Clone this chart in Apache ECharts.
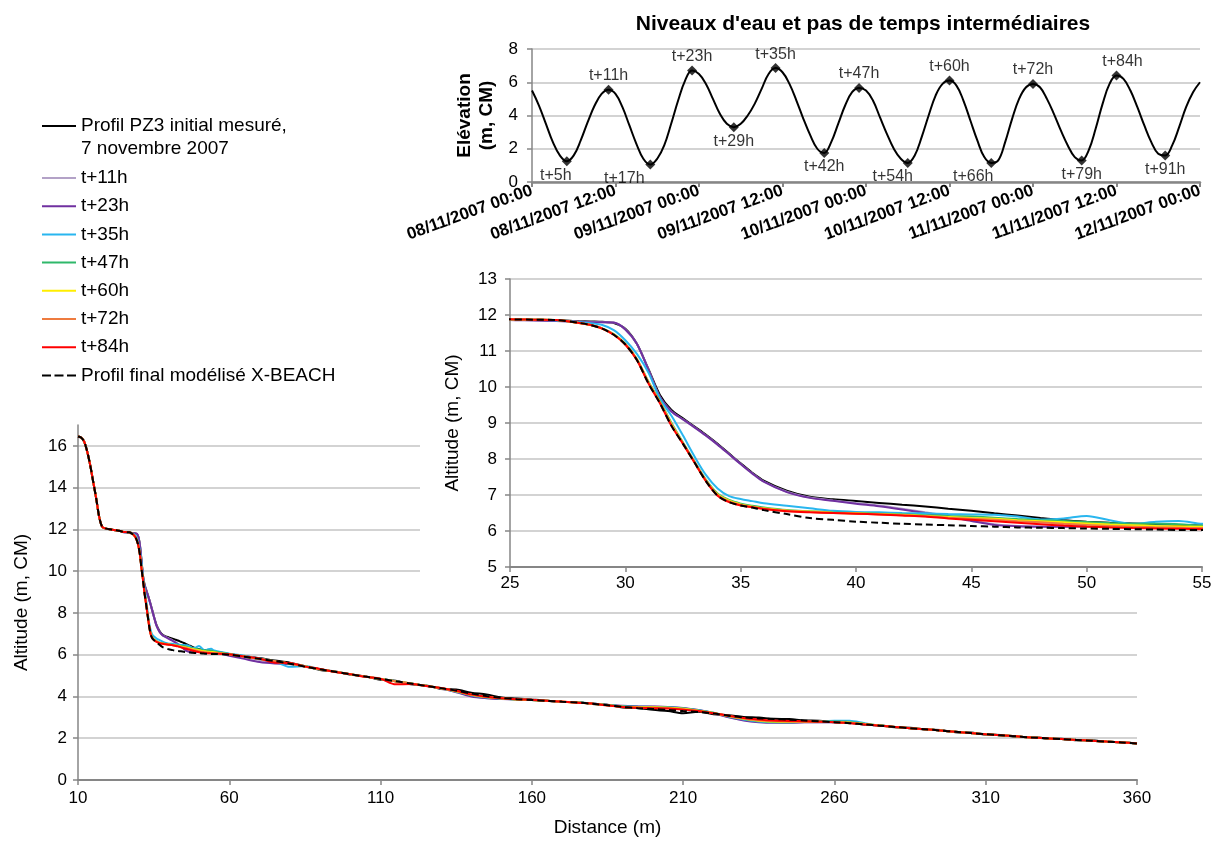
<!DOCTYPE html>
<html><head><meta charset="utf-8">
<script src="https://cdn.jsdelivr.net/npm/echarts@6/dist/echarts.min.js"></script>
<style>html,body{margin:0;padding:0;background:#fff}#c{width:1217px;height:842px}</style>
</head><body><div id="c"></div>
<script>
// ---------- DATA ----------
const tideLevels = [5.5,4.6,3.5,2.4,1.6,1.25,1.6,2.5,3.6,4.6,5.3,5.55,5.3,4.5,3.4,2.3,1.4,1.05,1.4,2.2,3.5,4.9,6.1,6.7,6.5,5.9,5.0,4.1,3.5,3.3,3.5,4.0,4.7,5.6,6.5,6.85,6.6,5.9,4.9,3.8,2.8,2.0,1.75,2.4,3.5,4.6,5.4,5.65,5.5,4.9,3.9,2.9,2.0,1.4,1.15,1.6,2.7,4.0,5.2,5.9,6.1,5.8,4.9,3.7,2.5,1.5,1.15,1.3,2.4,3.8,5.0,5.7,5.9,5.7,5.0,4.1,3.1,2.2,1.5,1.3,1.9,3.2,4.7,5.9,6.4,6.2,5.5,4.5,3.4,2.4,1.7,1.6,2.2,3.3,4.5,5.4,6.0];
const markerHours = [5,11,17,23,29,35,42,47,54,60,66,72,79,84,91];
const markerLevels = [1.25,5.55,1.05,6.7,3.3,6.85,1.75,5.65,1.15,6.1,1.15,5.9,1.3,6.4,1.6];
const markerLabels = ['t+5h','t+11h','t+17h','t+23h','t+29h','t+35h','t+42h','t+47h','t+54h','t+60h','t+66h','t+72h','t+79h','t+84h','t+91h'];
const dateTickLabels = ['08/11/2007 00:00','08/11/2007 12:00','09/11/2007 00:00','09/11/2007 12:00','10/11/2007 00:00','10/11/2007 12:00','11/11/2007 00:00','11/11/2007 12:00','12/11/2007 00:00'];

const distance = [10,11,12,13,14,15,16,17,18,19,20,22,24,25,26,27,28,28.5,29,29.5,30,30.5,31,31.5,32,32.5,33,33.5,34,34.5,35,35.5,36,37,38,39,40,41,42,43,44,45,46,47,48,49,50,51,52,53,54,55,60,65,70,75,80,85,90,95,100,105,110,115,120,125,130,135,140,145,150,155,160,165,170,175,180,185,190,195,200,205,210,215,220,225,230,235,240,245,250,255,260,265,270,275,280,285,290,295,300,305,310,315,320,325,330,335,340,345,350,355,360];

const profileInitial = [16.45,16.4,16.22,15.75,15.1,14.3,13.5,12.6,12.12,12.05,12.02,11.97,11.92,
 11.88,11.87,11.86,11.83,11.82,11.81,11.78,11.62,11.2,10.5,9.78,9.36,9.13,8.9,8.67,8.42,8.15,7.88,7.62,7.4,7.12,6.95,6.88,6.83,6.78,6.73,6.68,6.62,6.56,6.49,6.43,6.36,6.3,6.26,6.23,6.21,6.19,6.17,6.15,
 6.03,5.93,5.84,5.72,5.62,5.45,5.27,5.2,5.04,4.97,4.8,4.75,4.58,4.53,4.36,4.33,4.18,4.1,3.95,3.9,3.85,3.8,3.74,3.73,3.64,3.6,3.47,3.45,3.36,3.3,3.2,3.27,3.15,3.1,3.02,2.99,2.93,2.92,2.85,2.84,2.76,2.74,2.65,2.62,2.52,2.5,2.41,2.39,2.29,2.27,2.17,2.16,2.07,2.06,1.98,1.97,1.9,1.9,1.82,1.81,1.75];
const profileT11 = [16.45,16.4,16.22,15.75,15.1,14.3,13.5,12.6,12.12,12.05,12.02,11.97,11.92,
 11.87,11.86,11.84,11.82,11.81,11.8,11.79,11.6,11.2,10.48,9.72,9.32,9.1,8.88,8.65,8.4,8.13,7.86,7.6,7.37,7.09,6.93,6.85,6.78,6.71,6.62,6.52,6.42,6.3,6.19,6.14,6.12,6.12,6.13,6.13,6.12,6.11,6.1,6.1,
 6.0,5.88,5.75,5.65,5.58,5.44,5.3,5.18,5.06,4.95,4.84,4.73,4.62,4.51,4.39,4.22,4.03,3.94,3.89,3.86,3.83,3.79,3.75,3.71,3.66,3.59,3.54,3.52,3.51,3.49,3.44,3.35,3.21,3.02,2.87,2.79,2.76,2.75,2.76,2.77,2.77,2.74,2.67,2.6,2.54,2.48,2.43,2.37,2.31,2.25,2.19,2.14,2.09,2.04,2.0,1.96,1.92,1.88,1.84,1.8,1.75];
const profileT23 = [16.45,16.4,16.22,15.75,15.1,14.3,13.5,12.6,12.12,12.05,12.02,11.97,11.92,
 11.86,11.85,11.83,11.81,11.8,11.8,11.79,11.6,11.2,10.48,9.72,9.32,9.1,8.88,8.65,8.4,8.13,7.86,7.6,7.37,7.08,6.92,6.84,6.76,6.69,6.6,6.5,6.4,6.28,6.17,6.13,6.12,6.12,6.13,6.13,6.12,6.11,6.1,6.1,
 5.95,5.8,5.65,5.58,5.55,5.42,5.3,5.18,5.06,4.95,4.84,4.73,4.62,4.51,4.38,4.2,4.0,3.92,3.88,3.86,3.83,3.79,3.75,3.71,3.66,3.6,3.55,3.53,3.52,3.5,3.45,3.35,3.2,3.0,2.85,2.77,2.74,2.74,2.76,2.77,2.77,2.74,2.67,2.6,2.54,2.48,2.43,2.37,2.31,2.25,2.19,2.14,2.09,2.04,2.0,1.96,1.92,1.88,1.84,1.8,1.75];
const profileT35 = [16.45,16.4,16.22,15.75,15.1,14.3,13.5,12.6,12.12,12.05,12.02,11.97,11.92,
 11.87,11.86,11.85,11.8,11.77,11.72,11.58,11.3,10.92,10.4,9.68,9.2,8.65,8.07,7.55,7.18,6.97,6.89,6.83,6.77,6.7,6.63,6.56,6.53,6.52,6.5,6.49,6.47,6.46,6.45,6.4,6.32,6.35,6.42,6.3,6.2,6.26,6.28,6.2,
 6.05,5.95,5.82,5.68,5.42,5.46,5.3,5.18,5.06,4.95,4.84,4.73,4.62,4.51,4.39,4.24,4.06,3.95,3.9,3.86,3.83,3.79,3.75,3.71,3.66,3.59,3.53,3.51,3.5,3.48,3.43,3.34,3.22,3.04,2.9,2.8,2.76,2.76,2.78,2.8,2.84,2.84,2.72,2.61,2.54,2.48,2.43,2.37,2.31,2.25,2.19,2.14,2.09,2.04,2.0,1.96,1.92,1.88,1.84,1.8,1.75];
const profileT47 = [16.45,16.4,16.22,15.75,15.1,14.3,13.5,12.6,12.12,12.05,12.02,11.97,11.92,
 11.88,11.87,11.86,11.78,11.72,11.63,11.47,11.2,10.78,10.15,9.6,9.0,8.46,7.93,7.42,7.04,6.86,6.76,6.7,6.65,6.58,6.55,6.52,6.5,6.48,6.46,6.44,6.42,6.4,6.37,6.33,6.3,6.28,6.25,6.22,6.2,6.2,6.19,6.15,
 6.03,5.92,5.8,5.68,5.58,5.44,5.3,5.18,5.06,4.95,4.84,4.73,4.62,4.51,4.39,4.24,4.07,3.96,3.9,3.86,3.83,3.79,3.75,3.71,3.66,3.59,3.52,3.5,3.49,3.47,3.42,3.33,3.22,3.05,2.92,2.82,2.78,2.77,2.78,2.79,2.8,2.78,2.69,2.61,2.54,2.48,2.43,2.37,2.31,2.25,2.19,2.14,2.09,2.04,2.0,1.96,1.92,1.88,1.84,1.8,1.75];
const profileT60 = [16.45,16.4,16.22,15.75,15.1,14.3,13.5,12.6,12.12,12.05,12.02,11.97,11.92,
 11.88,11.87,11.86,11.78,11.72,11.62,11.46,11.19,10.77,10.13,9.58,8.97,8.44,7.91,7.4,7.02,6.84,6.74,6.68,6.63,6.57,6.54,6.51,6.49,6.47,6.45,6.42,6.39,6.36,6.34,6.3,6.27,6.24,6.21,6.18,6.16,6.14,6.13,6.12,
 6.02,5.91,5.8,5.68,5.58,5.44,5.3,5.18,5.06,4.95,4.84,4.72,4.62,4.51,4.39,4.25,4.08,3.97,3.91,3.86,3.83,3.79,3.75,3.71,3.65,3.58,3.51,3.49,3.48,3.46,3.41,3.32,3.21,3.06,2.93,2.84,2.8,2.79,2.79,2.79,2.78,2.75,2.68,2.61,2.54,2.48,2.43,2.37,2.31,2.25,2.19,2.14,2.09,2.04,2.0,1.96,1.92,1.88,1.84,1.8,1.75];
const profileT72 = [16.45,16.4,16.22,15.75,15.1,14.3,13.5,12.6,12.12,12.05,12.02,11.97,11.92,
 11.88,11.87,11.86,11.78,11.72,11.62,11.45,11.18,10.76,10.12,9.57,8.95,8.43,7.9,7.39,7.0,6.82,6.72,6.67,6.62,6.56,6.53,6.5,6.48,6.46,6.44,6.41,6.37,6.34,6.31,6.27,6.24,6.2,6.17,6.14,6.12,6.1,6.09,6.08,
 6.01,5.9,5.8,5.69,5.58,5.44,5.3,5.18,5.06,4.95,4.84,4.72,4.62,4.51,4.39,4.26,4.09,3.98,3.91,3.87,3.83,3.79,3.75,3.71,3.65,3.58,3.5,3.47,3.46,3.44,3.39,3.31,3.2,3.07,2.95,2.86,2.82,2.8,2.79,2.79,2.77,2.74,2.67,2.6,2.54,2.48,2.43,2.37,2.31,2.25,2.19,2.14,2.09,2.04,2.0,1.96,1.92,1.88,1.84,1.8,1.75];
const profileT84 = [16.45,16.4,16.22,15.75,15.1,14.3,13.5,12.6,12.12,12.05,12.02,11.97,11.92,
 11.88,11.87,11.86,11.78,11.72,11.62,11.45,11.18,10.75,10.1,9.55,8.92,8.42,7.9,7.38,6.98,6.8,6.71,6.66,6.61,6.55,6.52,6.5,6.48,6.46,6.43,6.4,6.35,6.31,6.27,6.23,6.19,6.15,6.12,6.1,6.08,6.07,6.06,6.05,
 6.02,5.92,5.82,5.62,5.6,5.43,5.32,5.17,5.07,4.94,4.85,4.58,4.6,4.5,4.41,4.27,4.1,3.99,3.92,3.87,3.84,3.79,3.76,3.7,3.66,3.57,3.5,3.46,3.44,3.42,3.37,3.3,3.2,3.08,2.97,2.9,2.85,2.83,2.81,2.79,2.77,2.72,2.66,2.6,2.54,2.48,2.43,2.37,2.31,2.25,2.19,2.14,2.09,2.04,2.0,1.96,1.92,1.88,1.84,1.8,1.75];
const profileFinal = [16.45,16.4,16.22,15.75,15.1,14.3,13.5,12.6,12.12,12.05,12.02,11.97,11.92,
 11.88,11.87,11.86,11.78,11.72,11.62,11.45,11.18,10.75,10.1,9.55,8.92,8.42,7.9,7.38,6.98,6.8,6.71,6.65,6.58,6.47,6.36,6.31,6.26,6.23,6.2,6.18,6.16,6.14,6.12,6.1,6.09,6.08,6.07,6.06,6.05,6.04,6.03,6.03,
 6.0,5.9,5.8,5.7,5.57,5.43,5.3,5.18,5.06,4.95,4.84,4.73,4.62,4.51,4.4,4.28,4.14,4.02,3.93,3.87,3.83,3.79,3.75,3.71,3.65,3.58,3.5,3.44,3.4,3.35,3.3,3.26,3.18,3.08,3.0,2.95,2.92,2.89,2.85,2.81,2.77,2.72,2.66,2.6,2.54,2.48,2.43,2.37,2.31,2.25,2.19,2.14,2.09,2.04,2.0,1.96,1.92,1.88,1.84,1.8,1.75];

const seriesNames = ['Profil PZ3 initial mesuré, 7 novembre 2007','t+11h','t+23h','t+35h','t+47h','t+60h','t+72h','t+84h','Profil final modélisé X-BEACH'];

// ---------- STYLE / BUILD ----------
const FONT = "'Liberation Sans', Arial, sans-serif";
const profiles = [profileInitial, profileT11, profileT23, profileT35, profileT47, profileT60, profileT72, profileT84, profileFinal];
const seriesColors = ['#000000','#b3a2c7','#7030a0','#29b6ef','#2fb86a','#ffee00','#ee7b3f','#ff0000','#000000'];
profiles.forEach((p, k) => { if (p.length !== distance.length) console.error('length mismatch', k, p.length); });

const chart = echarts.init(document.getElementById('c'));
const pts = arr => distance.map((d, i) => [d, arr[i]]);
const series = [];
profiles.forEach((arr, k) => {
  const ls = { color: seriesColors[k], width: 2, type: k === 8 ? [7, 4] : 'solid' };
  [1, 2].forEach(g => {
    series.push({
      type: 'line', name: seriesNames[k], xAxisIndex: g, yAxisIndex: g,
      data: pts(arr), symbol: 'none', showSymbol: false, smooth: 0.3,
      lineStyle: ls, itemStyle: { color: seriesColors[k] },
      z: g === 2 ? 12 : 2, animation: false
    });
  });
});
// tide
series.push({
  type: 'line', xAxisIndex: 0, yAxisIndex: 0, data: tideLevels.map((v, i) => [i, v]),
  symbol: 'none', smooth: 0.4, lineStyle: { color: '#000', width: 2 }, animation: false, silent: true
});
const labelShift = { 't+5h': -11, 't+17h': -26, 't+54h': -15, 't+66h': -18, 't+84h': 6 };
series.push({
  type: 'scatter', xAxisIndex: 0, yAxisIndex: 0, symbol: 'diamond', symbolSize: 10,
  itemStyle: { color: '#000' }, animation: false, z: 5,
  data: markerHours.map((h, i) => ({
    value: [h, markerLevels[i]],
    label: {
      show: true, formatter: markerLabels[i],
      position: i % 2 === 0 ? 'bottom' : 'top', distance: 1,
      offset: [labelShift[markerLabels[i]] || 0, 0],
      color: '#000', fontFamily: FONT, fontSize: 16
    }
  }))
});

const axisLab = { color: '#000', fontFamily: FONT, fontSize: 17 };
const grayLine = { lineStyle: { color: '#868686', width: 1.5 } };
const grid = { color: '#c4c4c4', width: 1.5 };
const nameStyle = { color: '#000', fontFamily: FONT, fontSize: 19 };
const dashIcon = 'path://M0,0h9v2h-9z M12.5,0h9v2h-9z M25,0h9v2h-9z';
const legendItems = seriesNames.map((n, k) => ({ name: n, icon: k === 8 ? dashIcon : 'rect' }));
const legendText = { color: '#000', fontFamily: FONT, fontSize: 19, lineHeight: 22 };

chart.setOption({
  animation: false,
  backgroundColor: '#fff',
  textStyle: { fontFamily: FONT },
  grid: [
    { left: 532, right: 17, top: 49, bottom: 660 },
    { left: 78, right: 80, top: 425, bottom: 62 },
    { left: 510, right: 15, top: 279, bottom: 275 }
  ],
  xAxis: [
    { gridIndex: 0, type: 'value', min: 0, max: 96, interval: 12,
      axisLine: { lineStyle: { color: '#868686', width: 2.5 } },
      axisTick: { show: true, length: 5, lineStyle: { color: '#868686', width: 2 } },
      splitLine: { show: false },
      axisLabel: { rotate: 20, margin: 8, color: '#000', fontFamily: FONT, fontSize: 17, fontWeight: 'bold',
        formatter: v => dateTickLabels[Math.round(v / 12)] } },
    { gridIndex: 1, type: 'value', min: 10, max: 360, interval: 50,
      axisLine: { lineStyle: { color: '#868686', width: 2 } },
      axisTick: { show: true, length: 5, lineStyle: { color: '#868686', width: 1.5 } },
      splitLine: { show: false },
      axisLabel: Object.assign({ margin: 10 }, axisLab),
      name: 'Distance (m)', nameLocation: 'middle', nameGap: 38, nameTextStyle: nameStyle },
    { gridIndex: 2, type: 'value', min: 25, max: 55, interval: 5, z: 10,
      axisLine: { lineStyle: { color: '#868686', width: 2 } },
      axisTick: { show: true, length: 5, lineStyle: { color: '#868686', width: 1.5 } },
      splitLine: { show: false },
      axisLabel: Object.assign({ margin: 8 }, axisLab) }
  ],
  yAxis: [
    { gridIndex: 0, type: 'value', min: 0, max: 8, interval: 2,
      axisLine: { show: true, ...grayLine }, axisTick: { show: true, length: 5, ...grayLine },
      splitLine: { show: true, lineStyle: grid },
      axisLabel: Object.assign({ margin: 14 }, axisLab),
      name: 'Elévation\n(m, CM)', nameLocation: 'middle', nameGap: 30, nameRotate: 90,
      nameTextStyle: { color: '#000', fontFamily: FONT, fontSize: 19, fontWeight: 'bold', lineHeight: 22 } },
    { gridIndex: 1, type: 'value', min: 0, max: 17, interval: 2,
      axisLine: { show: true, ...grayLine }, axisTick: { show: true, length: 5, ...grayLine },
      splitLine: { show: true, showMaxLine: false, lineStyle: grid },
      axisLabel: Object.assign({ margin: 11, showMaxLabel: false }, axisLab),
      name: 'Altitude (m, CM)', nameLocation: 'middle', nameGap: 47, nameRotate: 90, nameTextStyle: nameStyle },
    { gridIndex: 2, type: 'value', min: 5, max: 13, interval: 1, z: 10,
      axisLine: { show: true, ...grayLine }, axisTick: { show: true, length: 5, ...grayLine },
      splitLine: { show: true, lineStyle: grid },
      axisLabel: Object.assign({ margin: 13 }, axisLab),
      name: 'Altitude (m, CM)', nameLocation: 'middle', nameGap: 48, nameRotate: 90, nameTextStyle: nameStyle }
  ],
  legend: [
    { orient: 'vertical', left: 42, top: 115, padding: 0, itemWidth: 34, itemHeight: 2, itemGap: 6,
      data: legendItems.slice(0, 1), formatter: () => 'Profil PZ3 initial mesuré,',
      textStyle: legendText, selectedMode: false },
    { orient: 'vertical', left: 42, top: 167, padding: 0, itemWidth: 34, itemHeight: 2, itemGap: 6.2,
      data: legendItems.slice(1), textStyle: legendText, selectedMode: false }
  ],
  graphic: [
    { type: 'rect', shape: { x: 420, y: 266, width: 797, height: 328 }, style: { fill: '#fff' }, z: 5, silent: true },
    { type: 'text', x: 81, y: 149, z: 20, style: { text: '7 novembre 2007', fill: '#000', font: "19px 'Liberation Sans', Arial, sans-serif", verticalAlign: 'middle' } },
    { type: 'text', x: 863, y: 24, z: 20, style: { text: "Niveaux d'eau et pas de temps intermédiaires", fill: '#000', font: "bold 21px 'Liberation Sans', Arial, sans-serif", align: 'center', verticalAlign: 'middle' } }
  ],
  series
});
</script></body></html>
